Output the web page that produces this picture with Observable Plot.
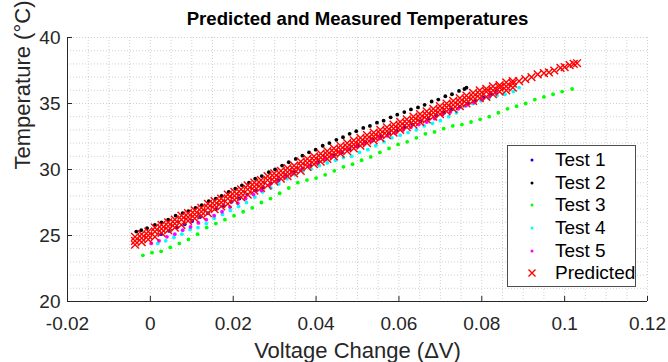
<!DOCTYPE html>
<html>
<head>
<meta charset="utf-8">
<script src="https://cdn.jsdelivr.net/npm/d3@7"></script>
<script src="https://cdn.jsdelivr.net/npm/@observablehq/plot@0.6"></script>
<style>
  html, body { margin: 0; padding: 0; background: #fff; }
  #wrap { position: relative; width: 668px; height: 362px; font-family: "Liberation Sans", Arial, sans-serif; }
  #legend { position: absolute; left: 507px; top: 145px; width: 129px; height: 142px; background: #fff; border: 1px solid #4d4d4d; box-sizing: border-box; padding-top: 3px; }
  .row { display: flex; align-items: center; height: 22.6px; font-size: 19px; color: #000; }
  .row svg { width: 47px; height: 22px; flex: none; }
</style>
</head>
<body>
<div id="wrap"><div id="legend"></div></div>
<script>
const title = "Predicted and Measured Temperatures";
const xLabel = "Voltage Change (\u0394V)";
const yLabel = "Temperature (\u00B0C)";
const xTicks = [-0.02, 0, 0.02, 0.04, 0.06, 0.08, 0.1, 0.12];
const yTicks = [20, 25, 30, 35, 40];
const seriesNames = ["Test 1", "Test 2", "Test 3", "Test 4", "Test 5", "Predicted"];
const seriesColors = ["#0000ff", "#000000", "#00ff00", "#00ffff", "#ff00ff", "#ff0000"];

const test1X = [0.0026,0.0045,0.0064,0.0083,0.0101,0.012,0.0139,0.0158,0.0177,0.0196,0.0215,0.0234,0.0253,0.0272,0.0291,0.031,0.0329,0.0348,0.0367,0.0386,0.0405,0.0424,0.0443,0.0462,0.0481,0.05,0.0519,0.0538,0.0557,0.0576,0.0595,0.0614,0.0633,0.0652,0.0671,0.069,0.0709,0.0728,0.0747,0.0766,0.0785,0.0804,0.0823,0.0834];
const test1Y = [25.1,25.35,25.6,25.85,26.1,26.4,26.7,27.0,27.25,27.55,27.8,28.1,28.4,28.65,28.95,29.2,29.5,29.8,30.05,30.3,30.55,30.8,31.05,31.3,31.55,31.8,32.05,32.25,32.5,32.75,32.95,33.2,33.4,33.65,33.85,34.1,34.3,34.55,34.75,35.0,35.2,35.45,35.7,35.9];

const test2X = [-0.0034,-0.0022,-0.0008,0.0011,0.0027,0.0043,0.0061,0.0078,0.0092,0.0109,0.0124,0.0141,0.0158,0.0172,0.0189,0.0205,0.0221,0.0238,0.0253,0.0269,0.0286,0.0301,0.0318,0.0334,0.0351,0.0367,0.0383,0.0399,0.0416,0.0432,0.0449,0.0465,0.0481,0.0497,0.0514,0.053,0.0547,0.0563,0.058,0.0596,0.0613,0.0629,0.0646,0.0662,0.0679,0.0695,0.0712,0.0728,0.0745,0.0758,0.0763];
const test2Y = [25.3,25.4,25.55,25.8,26.0,26.2,26.5,26.7,26.85,27.1,27.3,27.6,27.8,28.0,28.3,28.55,28.8,29.0,29.3,29.5,29.8,30.0,30.3,30.55,30.8,31.05,31.3,31.5,31.8,32.0,32.25,32.45,32.7,32.9,33.15,33.3,33.55,33.7,33.95,34.15,34.35,34.55,34.7,34.9,35.15,35.3,35.55,35.7,35.95,36.1,36.2];

const test3X = [-0.0018,0.0004,0.0026,0.0048,0.007,0.0092,0.0114,0.0136,0.0158,0.018,0.0202,0.0224,0.0246,0.0268,0.029,0.0312,0.0334,0.0356,0.0378,0.04,0.0422,0.0444,0.0466,0.0488,0.051,0.0532,0.0554,0.0576,0.0598,0.062,0.0642,0.0664,0.0686,0.0708,0.073,0.0752,0.0774,0.0796,0.0818,0.084,0.0862,0.0884,0.0906,0.0928,0.095,0.0972,0.0994,0.1018];
const test3Y = [23.5,23.7,23.8,24.1,24.4,24.7,25.1,25.6,25.9,26.2,26.5,26.8,27.1,27.5,27.8,28.2,28.6,29.0,29.2,29.35,29.6,29.9,30.2,30.4,30.7,30.95,31.3,31.6,31.9,32.1,32.4,32.7,32.85,33.1,33.3,33.4,33.6,33.8,34.0,34.3,34.6,34.8,35.0,35.3,35.5,35.7,35.9,36.1];

const test4X = [0.0018,0.0037,0.0057,0.0076,0.0096,0.0115,0.0135,0.0154,0.0174,0.0193,0.0213,0.0232,0.0252,0.0271,0.0291,0.031,0.033,0.0349,0.0369,0.0388,0.0408,0.0427,0.0447,0.0466,0.0486,0.0505,0.0525,0.0544,0.0564,0.0583,0.0603,0.0622,0.0642,0.0661,0.0681,0.07,0.072,0.0739,0.0759,0.0778,0.0798,0.0817,0.0837,0.0856,0.0876,0.089];
const test4Y = [24.4,24.6,24.85,25.1,25.45,25.6,25.9,26.3,26.6,26.9,27.2,27.5,27.9,28.3,28.6,28.9,29.3,29.6,29.9,30.05,30.3,30.5,30.7,30.9,31.0,31.3,31.5,31.8,32.1,32.4,32.6,32.8,33.0,33.3,33.5,33.7,34.0,34.3,34.8,35.0,35.2,35.4,35.6,35.7,35.9,36.2];

const test5X = [0.0002,0.0021,0.004,0.0059,0.0078,0.0097,0.0116,0.0135,0.0154,0.0173,0.0192,0.0211,0.023,0.0249,0.0268,0.0287,0.0306,0.0325,0.0344,0.0363,0.0382,0.0401,0.042,0.0439,0.0458,0.0477,0.0496,0.0515,0.0534,0.0553,0.0572,0.0591,0.061,0.0629,0.0648,0.0667,0.0686,0.0705,0.0724,0.0743,0.0762,0.0781,0.08,0.0819,0.0834];
const test5Y = [24.4,24.6,24.9,25.1,25.4,25.65,25.95,26.2,26.5,26.8,27.15,27.45,27.8,28.1,28.4,28.8,29.1,29.4,29.7,29.95,30.25,30.5,30.8,31.0,31.25,31.5,31.75,31.95,32.15,32.35,32.55,32.75,33.0,33.2,33.4,33.6,33.85,34.15,34.35,34.6,34.85,35.05,35.3,35.55,35.8];

// Predicted: dense band (upper, middle, lower readings at the same voltages) + sparse tail
const predX = [-0.0037,-0.0021,-0.0005,0.0011,0.0027,0.0043,0.0059,0.0075,0.0091,0.0107,0.0123,0.0139,0.0155,0.0171,0.0187,0.0203,0.0219,0.0235,0.0251,0.0267,0.0283,0.0299,0.0315,0.0331,0.0347,0.0363,0.0379,0.0395,0.0411,0.0427,0.0443,0.0459,0.0475,0.0491,0.0507,0.0523,0.0539,0.0555,0.0571,0.0587,0.0603,0.0619,0.0635,0.0651,0.0667,0.0683,0.0699,0.0715,0.0731,0.0747,0.0763,0.0779,0.0795,0.0811,0.0827,0.0843,0.0859,0.0875];
const predYUpper = [24.9,25.1,25.3,25.6,25.8,26.0,26.2,26.5,26.7,26.9,27.1,27.4,27.6,27.8,28.1,28.3,28.5,28.8,29.0,29.2,29.5,29.7,29.9,30.1,30.3,30.6,30.8,31.0,31.2,31.4,31.6,31.8,32.0,32.2,32.4,32.6,32.8,33.0,33.2,33.4,33.6,33.8,34.0,34.2,34.4,34.6,34.8,35.0,35.2,35.4,35.6,35.8,36.0,36.1,36.3,36.4,36.6,36.7];
const predYMid = [24.6,24.8,25.0,25.3,25.5,25.7,25.9,26.2,26.4,26.6,26.8,27.1,27.3,27.5,27.8,28.0,28.2,28.5,28.7,28.9,29.2,29.4,29.6,29.8,30.0,30.3,30.5,30.7,30.9,31.1,31.3,31.5,31.7,31.9,32.1,32.3,32.5,32.7,32.9,33.1,33.3,33.5,33.7,33.9,34.1,34.3,34.5,34.7,34.9,35.1,35.3,35.5,35.7,35.9,36.0,36.2,36.3,36.5];
const predYLower = [24.3,24.5,24.7,24.9,25.2,25.4,25.6,25.8,26.1,26.3,26.5,26.7,27.0,27.2,27.4,27.7,27.9,28.1,28.4,28.6,28.8,29.1,29.3,29.5,29.7,29.9,30.2,30.4,30.6,30.8,31.0,31.2,31.4,31.6,31.8,32.0,32.2,32.4,32.6,32.8,33.0,33.2,33.4,33.6,33.8,34.0,34.2,34.4,34.6,34.8,35.0,35.2,35.4,35.5,35.7,35.9,36.0,36.2];
const predTailX = [0.089,0.0905,0.092,0.0935,0.095,0.0962,0.0975,0.099,0.1,0.1012,0.1022,0.103];
const predTailY = [36.7,36.85,37.0,37.2,37.3,37.35,37.5,37.7,37.75,37.9,38.0,38.05];

const tests = [[test1X, test1Y], [test2X, test2Y], [test3X, test3Y], [test4X, test4Y], [test5X, test5Y]];
const measured = tests.flatMap(([xs, ys], i) => xs.map((x, j) => ({x, y: ys[j], s: seriesNames[i]})));
const predicted = [
  ...predX.map((x, j) => ({x, y: predYUpper[j]})),
  ...predX.map((x, j) => ({x, y: predYMid[j]})),
  ...predX.map((x, j) => ({x, y: predYLower[j]})),
  ...predTailX.map((x, j) => ({x, y: predTailY[j]}))
];

const font = "Liberation Sans, Arial, sans-serif";
const axisColor = "#262626";
const gridColor = "#c4c4c4";
const W = 668, H = 362, mL = 67, mR = 21, mT = 37, mB = 61;
const innerW = W - mL - mR, innerH = H - mT - mB;

const chart = Plot.plot({
  width: W, height: H,
  marginLeft: mL, marginRight: mR, marginTop: mT, marginBottom: mB,
  style: {fontFamily: font, background: "#fff", overflow: "visible"},
  x: {domain: [-0.02, 0.12]},
  y: {domain: [20, 40]},
  color: {domain: seriesNames, range: seriesColors},
  marks: [
    Plot.ruleX(d3.range(-0.02, 0.1201, 0.005), {stroke: gridColor, strokeDasharray: "1,2", strokeWidth: 0.8}),
    Plot.ruleY(d3.range(20, 40.01, 1), {stroke: gridColor, strokeDasharray: "1,2", strokeWidth: 0.8}),
    Plot.dot(measured, {x: "x", y: "y", fill: "s", r: 1.9, stroke: null}),
    Plot.dot(predicted, {x: "x", y: "y", symbol: "times", stroke: seriesColors[5], r: 3.6, strokeWidth: 1.4}),
    Plot.ruleY([20], {stroke: axisColor, strokeWidth: 1}),
    Plot.ruleX([-0.02], {stroke: axisColor, strokeWidth: 1}),
    Plot.tickX(xTicks, {x: d => d, stroke: axisColor, insetTop: innerH - 5}),
    Plot.tickY(yTicks, {y: d => d, stroke: axisColor, insetRight: innerW - 5}),
    Plot.axisX(xTicks, {tickSize: 0, tickPadding: 15, fontSize: 19, fill: axisColor, label: null, tickFormat: d => String(d)}),
    Plot.axisY(yTicks, {tickSize: 0, tickPadding: 7, fontSize: 19, fill: axisColor, label: null}),
    Plot.text([xLabel], {frameAnchor: "bottom", dy: 49, fontSize: 22, fill: axisColor, lineAnchor: "middle"}),
    Plot.text([yLabel], {frameAnchor: "left", dx: -45, rotate: -90, fontSize: 22, fill: axisColor, lineAnchor: "middle"}),
    Plot.text([title], {frameAnchor: "top", dy: -18, fontSize: 18.6, fontWeight: "bold", fill: "#000", lineAnchor: "middle"})
  ]
});
document.getElementById("wrap").prepend(chart);

const legend = document.getElementById("legend");
seriesNames.forEach((name, i) => {
  const row = document.createElement("div");
  row.className = "row";
  const marker = i === 5
    ? `<svg viewBox="0 0 47 22"><path d="M20.5,7.5L27.5,14.5M27.5,7.5L20.5,14.5" stroke="${seriesColors[i]}" stroke-width="1.4"/></svg>`
    : `<svg viewBox="0 0 47 22"><circle cx="24" cy="11" r="1.5" fill="${seriesColors[i]}"/></svg>`;
  row.innerHTML = marker + `<span>${name}</span>`;
  legend.appendChild(row);
});
</script>
</body>
</html>
